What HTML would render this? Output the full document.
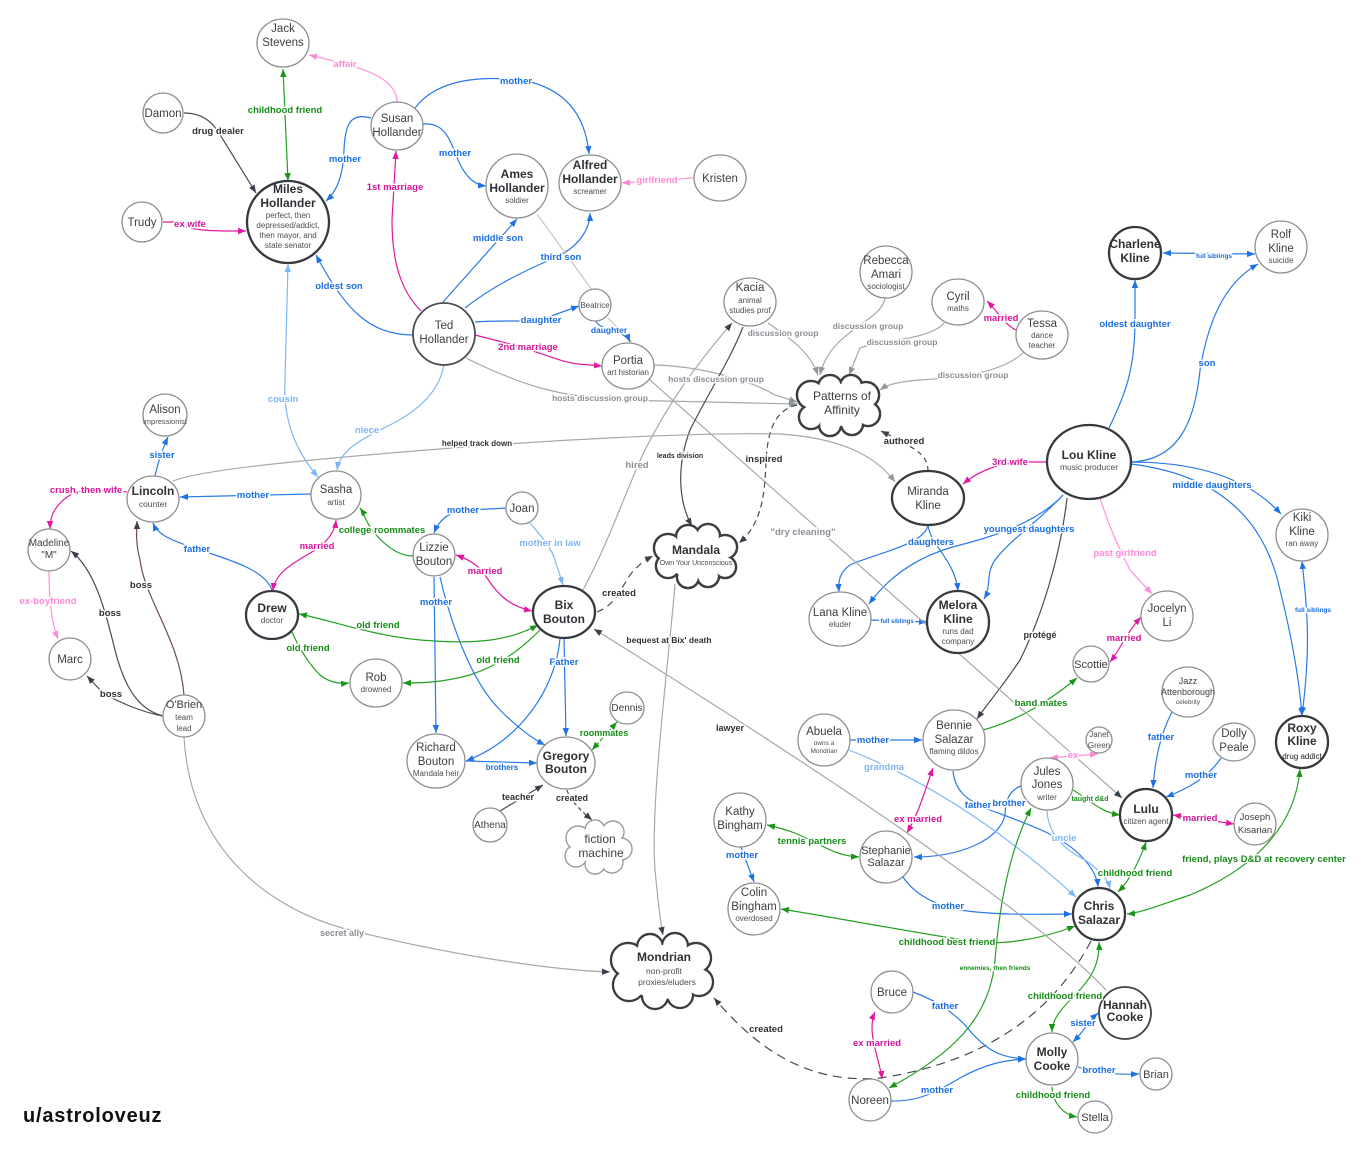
<!DOCTYPE html>
<html><head><meta charset="utf-8">
<style>
html,body{margin:0;padding:0;background:#fff;}
svg{display:block;}
.n{fill:#fff;stroke:#8e8e8e;stroke-width:1.3}
.nb{fill:#fff;stroke:#36393f;stroke-width:2.3}
.t{font-family:"Liberation Sans",sans-serif;font-size:11.5px;fill:#3c4043;text-anchor:middle}
.tb{font-family:"Liberation Sans",sans-serif;font-size:12px;font-weight:bold;fill:#2e3135;text-anchor:middle}
.s{font-family:"Liberation Sans",sans-serif;font-size:8px;fill:#4a4d52;text-anchor:middle}
.l{font-family:"Liberation Sans",sans-serif;font-size:9.5px;font-weight:bold;text-anchor:middle;paint-order:stroke;stroke:#fff;stroke-width:3px;stroke-linejoin:round}
.lb{fill:#1a6ee0}.llb{fill:#7db5f7}.lp{fill:#d6139a}.llp{fill:#ff88d8}.lg{fill:#178c17}.ld{fill:#2e3135}.lgr{fill:#8a8e96}
.e{fill:none;stroke-width:1.2}
.B{stroke:#2a7ae8}.LB{stroke:#80b8f7}.P{stroke:#e0189f}.LP{stroke:#ff90da}.G{stroke:#23a023}.D{stroke:#464c57}.GR{stroke:#a8a8a8}.TAN{stroke:#cfc6bb}
</style></head>
<body>
<svg width="1365" height="1153" viewBox="0 0 1365 1153" xmlns="http://www.w3.org/2000/svg">
<defs>
<marker id="mB" viewBox="0 0 10 10" refX="10" refY="5" markerWidth="8" markerHeight="8" markerUnits="userSpaceOnUse" orient="auto-start-reverse"><path d="M0,1 L10,5 L0,9 z" fill="#1f72e6"/></marker>
<marker id="mLB" viewBox="0 0 10 10" refX="10" refY="5" markerWidth="8" markerHeight="8" markerUnits="userSpaceOnUse" orient="auto-start-reverse"><path d="M0,1 L10,5 L0,9 z" fill="#7db5f7"/></marker>
<marker id="mP" viewBox="0 0 10 10" refX="10" refY="5" markerWidth="8" markerHeight="8" markerUnits="userSpaceOnUse" orient="auto-start-reverse"><path d="M0,1 L10,5 L0,9 z" fill="#e0189f"/></marker>
<marker id="mLP" viewBox="0 0 10 10" refX="10" refY="5" markerWidth="8" markerHeight="8" markerUnits="userSpaceOnUse" orient="auto-start-reverse"><path d="M0,1 L10,5 L0,9 z" fill="#ff88d8"/></marker>
<marker id="mG" viewBox="0 0 10 10" refX="10" refY="5" markerWidth="8" markerHeight="8" markerUnits="userSpaceOnUse" orient="auto-start-reverse"><path d="M0,1 L10,5 L0,9 z" fill="#1b941b"/></marker>
<marker id="mD" viewBox="0 0 10 10" refX="10" refY="5" markerWidth="8" markerHeight="8" markerUnits="userSpaceOnUse" orient="auto-start-reverse"><path d="M0,1 L10,5 L0,9 z" fill="#3a3f4a"/></marker>
<marker id="mGR" viewBox="0 0 10 10" refX="10" refY="5" markerWidth="8" markerHeight="8" markerUnits="userSpaceOnUse" orient="auto-start-reverse"><path d="M0,1 L10,5 L0,9 z" fill="#8f939a"/></marker>
</defs>

<!-- ================= EDGES ================= -->
<!-- top-left family -->
<path class="e G" d="M283,69 L288,181" marker-start="url(#mG)" marker-end="url(#mG)"/>
<path class="e LP" d="M397,102 C397,75 355,66 309,55" marker-end="url(#mLP)"/>
<path class="e D" d="M184,113 C205,113 215,125 222,138 L256,193" marker-end="url(#mD)"/>
<path class="e P" d="M163,222 L175,222 C190,232 220,231 246,231" marker-end="url(#mP)"/>
<path class="e B" d="M371,118 C350,112 345,125 344,150 C343,175 338,190 326,201" marker-end="url(#mB)"/>
<path class="e B" d="M415,108 C440,75 490,78 515,79 C560,85 585,110 589,154" marker-end="url(#mB)"/>
<path class="e B" d="M423,124 C445,122 450,140 458,160 C466,178 475,185 486,186" marker-end="url(#mB)"/>
<path class="e P" d="M421,311 C400,290 392,260 392,220 L396,151" marker-end="url(#mP)"/>
<path class="e B" d="M413,335 C370,335 345,310 316,255" marker-end="url(#mB)"/>
<path class="e B" d="M443,302 L517,219" marker-end="url(#mB)"/>
<path class="e B" d="M465,308 C500,280 540,265 560,255 C580,245 590,228 590,213" marker-end="url(#mB)"/>
<path class="e TAN" d="M537,214 L592,290"/>
<path class="e TAN" d="M608,318 L632,342"/>
<path class="e B" d="M596,321 C598,330 625,330 630,342" marker-end="url(#mB)"/>
<path class="e B" d="M475,322 C500,320 520,322 540,320 L579,306" marker-end="url(#mB)"/>
<path class="e P" d="M475,335 L510,344 C540,352 560,362 578,364 L602,366" marker-end="url(#mP)"/>
<path class="e GR" d="M466,358 C520,385 560,397 620,400 L797,404" marker-end="url(#mGR)"/>
<path class="e GR" d="M654,365 C700,366 750,380 775,395 L797,402" marker-end="url(#mGR)"/>
<path class="e LP" d="M693,178 L622,183" marker-end="url(#mLP)"/>

<!-- discussion group -->
<path class="e GR" d="M768,323 C790,338 810,352 818,375" marker-end="url(#mGR)"/>
<path class="e GR" d="M885,298 C882,322 830,330 820,375" marker-end="url(#mGR)"/>
<path class="e GR" d="M944,323 C930,340 880,340 860,348 L849,375" marker-end="url(#mGR)"/>
<path class="e GR" d="M1024,352 C1000,375 950,378 920,380 C895,382 887,385 880,390" marker-end="url(#mGR)"/>
<path class="e P" d="M1016,330 C1005,325 998,312 987,301" marker-end="url(#mP)"/>
<path class="e D" d="M928,471 C928,455 915,450 905,443 L881,431" stroke-dasharray="5,4" marker-end="url(#mD)"/>

<!-- Kline family -->
<path class="e P" d="M1047,462 L1030,462 C1000,462 980,470 963,484" marker-end="url(#mP)"/>
<path class="e B" d="M1109,428 C1125,395 1135,370 1135,320 L1135,280" marker-end="url(#mB)"/>
<path class="e B" d="M1131,462 C1180,460 1195,420 1200,370 C1210,310 1230,280 1258,264" marker-end="url(#mB)"/>
<path class="e B" d="M1163,253 L1255,254" marker-start="url(#mB)" marker-end="url(#mB)"/>
<path class="e B" d="M1131,462 C1200,462 1250,480 1281,514" marker-end="url(#mB)"/>
<path class="e B" d="M1131,464 C1220,475 1265,520 1280,590 C1295,650 1300,690 1302,716" marker-end="url(#mB)"/>
<path class="e B" d="M1302,561 C1306,600 1312,640 1302,715" marker-start="url(#mB)" marker-end="url(#mB)"/>
<path class="e B" d="M928,525 C925,545 870,555 850,565 C840,572 838,580 839,592" marker-end="url(#mB)"/>
<path class="e B" d="M928,525 C930,545 955,560 958,591" marker-end="url(#mB)"/>
<path class="e B" d="M1063,495 C1040,520 1000,535 960,545 C920,555 890,575 869,604" marker-end="url(#mB)"/>
<path class="e B" d="M1063,495 C1040,520 1010,540 995,560 C985,575 992,585 984,599" marker-end="url(#mB)"/>
<path class="e B" d="M871,620 L927,622" marker-end="url(#mB)"/>
<path class="e LP" d="M1100,498 C1110,530 1120,550 1130,570 L1152,594" marker-end="url(#mLP)"/>
<path class="e D" d="M1067,498 C1060,560 1040,620 1020,660 C1000,690 990,700 977,719" marker-end="url(#mD)"/>
<path class="e P" d="M1110,662 C1120,650 1125,635 1141,617" marker-start="url(#mP)" marker-end="url(#mP)"/>
<path class="e G" d="M983,730 C1020,720 1050,700 1077,678" marker-end="url(#mG)"/>

<!-- Lulu area -->
<path class="e B" d="M1172,712 C1160,735 1155,760 1153,788" marker-end="url(#mB)"/>
<path class="e B" d="M1221,758 C1210,775 1190,788 1166,797" marker-end="url(#mB)"/>
<path class="e P" d="M1173,815 L1234,824" marker-start="url(#mP)" marker-end="url(#mP)"/>
<path class="e G" d="M1073,790 C1090,800 1100,812 1120,815" marker-end="url(#mG)"/>
<path class="e LP" d="M1050,758 L1098,754" marker-start="url(#mLP)" marker-end="url(#mLP)"/>
<path class="e B" d="M953,771 C955,790 965,800 990,810 C1030,825 1060,835 1080,855 C1090,865 1097,875 1098,887" marker-end="url(#mB)"/>
<path class="e B" d="M1021,786 C1010,790 1005,800 1005,815 C1000,840 960,857 914,857" marker-end="url(#mB)"/>
<path class="e LB" d="M1047,810 C1048,835 1065,850 1085,860 C1100,870 1108,880 1110,889" marker-end="url(#mLB)"/>
<path class="e B" d="M850,740 L922,740" marker-end="url(#mB)"/>
<path class="e LB" d="M849,750 C900,770 980,810 1076,897" marker-end="url(#mLB)"/>
<path class="e P" d="M933,768 C925,790 920,810 907,833" marker-start="url(#mP)" marker-end="url(#mP)"/>
<path class="e G" d="M767,825 C790,830 800,835 810,840 C830,850 840,856 859,857" marker-start="url(#mG)" marker-end="url(#mG)"/>
<path class="e B" d="M741,847 L754,882" marker-end="url(#mB)"/>
<path class="e B" d="M903,877 C915,895 935,905 960,910 C1000,916 1050,914 1072,914" marker-end="url(#mB)"/>
<path class="e G" d="M1075,926 C1040,940 1000,945 975,942 C900,930 820,915 781,909" marker-start="url(#mG)" marker-end="url(#mG)"/>
<path class="e G" d="M1146,842 C1140,860 1130,880 1118,892" marker-start="url(#mG)" marker-end="url(#mG)"/>
<path class="e G" d="M1300,769 C1295,830 1250,870 1190,895 C1160,905 1140,913 1127,914" marker-start="url(#mG)" marker-end="url(#mG)"/>
<path class="e G" d="M889,1088 C950,1055 990,1020 995,960 C1000,900 1010,850 1031,808" marker-start="url(#mG)" marker-end="url(#mG)"/>
<path class="e D" d="M1091,941 C1060,1000 1000,1060 880,1078 C800,1085 750,1040 714,998" stroke-dasharray="9,6" stroke-width="1.4" marker-end="url(#mD)"/>
<path class="e G" d="M1099,942 C1100,965 1090,980 1075,995 C1060,1010 1052,1020 1052,1032" marker-start="url(#mG)" marker-end="url(#mG)"/>
<path class="e B" d="M1098,1013 C1090,1020 1085,1030 1073,1042" marker-start="url(#mB)" marker-end="url(#mB)"/>
<path class="e B" d="M913,992 C935,1000 950,1010 965,1025 C985,1050 1000,1058 1026,1059" marker-end="url(#mB)"/>
<path class="e B" d="M891,1101 C920,1102 940,1090 960,1078 C985,1064 1005,1060 1026,1059" marker-end="url(#mB)"/>
<path class="e P" d="M875,1012 C866,1032 880,1060 882,1079" marker-start="url(#mP)" marker-end="url(#mP)"/>
<path class="e B" d="M1078,1067 C1090,1072 1110,1075 1139,1074" marker-end="url(#mB)"/>
<path class="e G" d="M1052,1087 C1053,1105 1065,1115 1077,1117" marker-end="url(#mG)"/>

<!-- long gray lines -->
<path class="e GR" d="M1106,990 C1050,930 900,820 594,629" marker-end="url(#mD)"/>
<path class="e GR" d="M650,380 C750,470 900,600 1122,798" marker-end="url(#mD)"/>
<path class="e GR" d="M583,590 C610,540 630,480 645,450 C670,400 700,360 732,323" stroke="#c0c0c0" marker-end="url(#mD)"/>
<path class="e D" d="M743,327 C730,360 710,390 690,430 C675,470 680,505 692,526" marker-end="url(#mD)"/>
<path class="e D" d="M797,405 C775,410 768,430 766,460 C765,500 760,525 739,543" stroke-dasharray="6,4" marker-end="url(#mD)"/>
<path class="e D" d="M597,612 C615,605 620,590 630,575 C638,565 645,560 653,556" stroke-dasharray="7,5" stroke-width="1.4" marker-end="url(#mD)"/>
<path class="e GR" d="M675,584 C670,650 650,800 655,870 C658,900 660,920 663,935" marker-end="url(#mD)"/>
<path class="e GR" d="M184,737 C190,850 270,910 350,930 C450,955 550,970 610,972" marker-end="url(#mD)"/>
<path class="e GR" d="M173,481 C200,470 300,460 440,449 C550,440 700,432 780,434 C840,438 875,455 895,482" stroke="#bdbdbd" marker-end="url(#mGR)"/>

<!-- left side -->
<path class="e B" d="M155,476 C158,462 162,450 168,437" marker-end="url(#mB)"/>
<path class="e P" d="M127,492 C110,490 80,488 70,495 C55,505 50,515 50,529" marker-end="url(#mP)"/>
<path class="e LP" d="M49,571 C49,590 50,620 58,639" marker-end="url(#mLP)"/>
<path class="e B" d="M311,494 L180,497" marker-end="url(#mB)"/>
<path class="e LB" d="M288,264 L285,380 C283,420 295,450 318,477" marker-start="url(#mLB)" marker-end="url(#mLB)"/>
<path class="e LB" d="M444,364 C440,390 420,410 390,425 C360,440 340,450 337,470" marker-end="url(#mLB)"/>
<path class="e B" d="M272,590 C265,570 230,560 200,550 C170,540 158,535 153,523" marker-end="url(#mB)"/>
<path class="e P" d="M273,591 C275,570 300,560 315,550 C330,540 335,530 336,520" marker-start="url(#mP)" marker-end="url(#mP)"/>
<path class="e G" d="M413,556 C395,556 380,540 372,530 C365,520 365,515 360,508" stroke="#6cc06c" marker-end="url(#mG)"/>
<path class="e B" d="M507,508 L470,510 C450,511 440,518 434,533" marker-end="url(#mB)"/>
<path class="e LB" d="M530,523 C540,535 550,545 555,560 L563,585" marker-end="url(#mLB)"/>
<path class="e P" d="M456,555 C470,560 478,565 485,575 C495,590 505,605 532,611" marker-start="url(#mP)" marker-end="url(#mP)"/>
<path class="e G" d="M538,625 C510,640 480,645 420,640 C370,635 330,620 299,614" marker-start="url(#mG)" marker-end="url(#mG)"/>
<path class="e G" d="M292,632 C300,650 310,665 320,675 C330,683 340,684 349,683" marker-end="url(#mG)"/>
<path class="e G" d="M540,630 C520,650 500,665 470,675 C440,683 420,683 403,683" marker-end="url(#mG)"/>
<path class="e B" d="M434,577 L436,733" marker-end="url(#mB)"/>
<path class="e B" d="M440,577 C450,620 470,680 500,710 C520,730 535,740 545,745" marker-end="url(#mB)"/>
<path class="e B" d="M564,639 L566,736" marker-end="url(#mB)"/>
<path class="e B" d="M560,639 C555,690 520,740 466,761" marker-end="url(#mB)"/>
<path class="e B" d="M466,761 L537,763" marker-end="url(#mB)"/>
<path class="e G" d="M592,750 L617,722" stroke-dasharray="4,2" marker-start="url(#mG)" marker-end="url(#mG)"/>
<path class="e D" d="M500,811 L543,785" marker-end="url(#mD)"/>
<path class="e D" d="M567,790 C570,800 580,810 592,820" stroke-dasharray="4,3" marker-end="url(#mD)"/>
<path class="e" stroke="#6b4f4a" d="M184,695 C180,640 145,600 140,560 C135,540 137,530 137,521" marker-end="url(#mD)"/>
<path class="e D" d="M163,716 C140,710 125,690 115,650 C105,610 95,570 71,551" marker-end="url(#mD)"/>
<path class="e D" d="M163,716 C140,712 115,700 103,693 L87,676" marker-end="url(#mD)"/>

<!-- ================= CLOUDS ================= -->
<g stroke="#3a3d42" stroke-width="2.6" fill="#fff">
<circle cx="811" cy="395" r="14"/><circle cx="830" cy="387" r="12"/><circle cx="851" cy="386" r="11"/><circle cx="866" cy="395" r="13"/><circle cx="868" cy="414" r="12"/><circle cx="852" cy="424" r="11"/><circle cx="830" cy="425" r="11"/><circle cx="811" cy="417" r="12"/>
</g>
<g fill="#fff"><circle cx="811" cy="395" r="12.8"/><circle cx="830" cy="387" r="10.8"/><circle cx="851" cy="386" r="9.8"/><circle cx="866" cy="395" r="11.8"/><circle cx="868" cy="414" r="10.8"/><circle cx="852" cy="424" r="9.8"/><circle cx="830" cy="425" r="9.8"/><circle cx="811" cy="417" r="10.8"/><ellipse cx="840" cy="405" rx="30" ry="21"/></g>

<g stroke="#3a3d42" stroke-width="2.6" fill="#fff">
<circle cx="668" cy="548" r="14"/><circle cx="688" cy="537" r="12"/><circle cx="708" cy="536" r="12"/><circle cx="725" cy="547" r="12"/><circle cx="725" cy="567" r="11"/><circle cx="708" cy="576" r="11"/><circle cx="688" cy="577" r="11"/><circle cx="668" cy="566" r="12"/>
</g>
<g fill="#fff"><circle cx="668" cy="548" r="12.8"/><circle cx="688" cy="537" r="10.8"/><circle cx="708" cy="536" r="10.8"/><circle cx="725" cy="547" r="10.8"/><circle cx="725" cy="567" r="9.8"/><circle cx="708" cy="576" r="9.8"/><circle cx="688" cy="577" r="9.8"/><circle cx="668" cy="566" r="10.8"/><ellipse cx="696" cy="557" rx="30" ry="21"/></g>

<g stroke="#3a3d42" stroke-width="2.4" fill="#fff">
<circle cx="628" cy="960" r="17"/><circle cx="650" cy="947" r="13"/><circle cx="675" cy="946" r="13"/><circle cx="696" cy="958" r="15"/><circle cx="699" cy="982" r="14"/><circle cx="680" cy="995" r="13"/><circle cx="655" cy="996" r="13"/><circle cx="629" cy="985" r="16"/>
</g>
<g fill="#fff"><circle cx="628" cy="960" r="15.8"/><circle cx="650" cy="947" r="11.8"/><circle cx="675" cy="946" r="11.8"/><circle cx="696" cy="958" r="13.8"/><circle cx="699" cy="982" r="12.8"/><circle cx="680" cy="995" r="11.8"/><circle cx="655" cy="996" r="11.8"/><circle cx="629" cy="985" r="14.8"/><ellipse cx="662" cy="972" rx="38" ry="27"/></g>

<g stroke="#9a9a9a" stroke-width="1.4" fill="#fff">
<circle cx="578" cy="838" r="12"/><circle cx="595" cy="830" r="10"/><circle cx="613" cy="832" r="11"/><circle cx="621" cy="849" r="11"/><circle cx="612" cy="862" r="11"/><circle cx="595" cy="864" r="10"/><circle cx="576" cy="856" r="11"/>
</g>
<g fill="#fff"><circle cx="578" cy="838" r="11.2"/><circle cx="595" cy="830" r="9.2"/><circle cx="613" cy="832" r="10.2"/><circle cx="621" cy="849" r="10.2"/><circle cx="612" cy="862" r="10.2"/><circle cx="595" cy="864" r="9.2"/><circle cx="576" cy="856" r="10.2"/><ellipse cx="598" cy="847" rx="22" ry="16"/></g>

<text class="t" x="842" y="400" style="font-size:12px">Patterns of</text>
<text class="t" x="842" y="414" style="font-size:12px">Affinity</text>
<text class="tb" x="696" y="554">Mandala</text>
<text class="s" x="696" y="565" style="font-size:7px">Own Your Unconscious</text>
<text class="tb" x="664" y="961">Mondrian</text>
<text class="s" x="664" y="974" style="font-size:8.5px">non-profit</text>
<text class="s" x="667" y="985" style="font-size:8.5px">proxies/eluders</text>
<text class="t" x="600" y="843" style="font-size:12px">fiction</text>
<text class="t" x="601" y="857" style="font-size:12px">machine</text>

<!-- ================= NODES ================= -->
<ellipse class="n" cx="283" cy="43" rx="26" ry="24"/>
<text class="t" x="283" y="32">Jack</text><text class="t" x="283" y="46">Stevens</text>
<circle class="n" cx="163" cy="113" r="20"/><text class="t" x="163" y="117">Damon</text>
<circle class="n" cx="142" cy="222" r="20"/><text class="t" x="142" y="226">Trudy</text>
<circle class="nb" cx="288" cy="222" r="41"/>
<text class="tb" x="288" y="193">Miles</text><text class="tb" x="288" y="207">Hollander</text>
<text class="s" x="288" y="218">perfect, then</text><text class="s" x="288" y="228">depressed/addict,</text><text class="s" x="288" y="238">then mayor, and</text><text class="s" x="288" y="248">state senator</text>
<ellipse class="n" cx="397" cy="126" rx="26" ry="24"/>
<text class="t" x="397" y="122">Susan</text><text class="t" x="397" y="136">Hollander</text>
<circle class="nb" cx="444" cy="334" r="31" style="stroke:#4a4d52;stroke-width:1.8"/>
<text class="t" x="444" y="329">Ted</text><text class="t" x="444" y="343">Hollander</text>
<ellipse class="n" cx="517" cy="186" rx="31" ry="32"/>
<text class="tb" x="517" y="178">Ames</text><text class="tb" x="517" y="192">Hollander</text><text class="s" x="517" y="203">soldier</text>
<ellipse class="n" cx="590" cy="183" rx="31" ry="28"/>
<text class="tb" x="590" y="169">Alfred</text><text class="tb" x="590" y="183">Hollander</text><text class="s" x="590" y="194">screamer</text>
<ellipse class="n" cx="720" cy="178" rx="26" ry="23"/><text class="t" x="720" y="182">Kristen</text>
<circle class="n" cx="595" cy="305" r="16"/><text class="s" x="595" y="308">Beatrice</text>
<ellipse class="n" cx="628" cy="366" rx="26" ry="23"/>
<text class="t" x="628" y="364">Portia</text><text class="s" x="628" y="375">art historian</text>
<ellipse class="n" cx="750" cy="302" rx="26" ry="24"/>
<text class="t" x="750" y="291">Kacia</text><text class="s" x="750" y="303">animal</text><text class="s" x="750" y="313">studies prof</text>
<circle class="n" cx="886" cy="272" r="26"/>
<text class="t" x="886" y="264">Rebecca</text><text class="t" x="886" y="278">Amari</text><text class="s" x="886" y="289">sociologist</text>
<ellipse class="n" cx="958" cy="302" rx="26" ry="23"/>
<text class="t" x="958" y="300">Cyril</text><text class="s" x="958" y="311">maths</text>
<ellipse class="n" cx="1042" cy="335" rx="26" ry="24"/>
<text class="t" x="1042" y="327">Tessa</text><text class="s" x="1042" y="338">dance</text><text class="s" x="1042" y="348">teacher</text>
<circle class="nb" cx="1135" cy="253" r="26"/>
<text class="tb" x="1135" y="248">Charlene</text><text class="tb" x="1135" y="262">Kline</text>
<circle class="n" cx="1281" cy="247" r="26"/>
<text class="t" x="1281" y="238">Rolf</text><text class="t" x="1281" y="252">Kline</text><text class="s" x="1281" y="263">suicide</text>
<ellipse class="nb" cx="1089" cy="462" rx="42" ry="37"/>
<text class="tb" x="1089" y="459">Lou Kline</text><text class="s" x="1089" y="470" style="font-size:8.5px">music producer</text>
<ellipse class="nb" cx="928" cy="498" rx="36" ry="27"/>
<text class="t" x="928" y="495">Miranda</text><text class="t" x="928" y="509">Kline</text>
<circle class="n" cx="1302" cy="535" r="26"/>
<text class="t" x="1302" y="521">Kiki</text><text class="t" x="1302" y="535">Kline</text><text class="s" x="1302" y="546">ran away</text>
<ellipse class="n" cx="840" cy="619" rx="31" ry="27"/>
<text class="t" x="840" y="616">Lana Kline</text><text class="s" x="840" y="627">eluder</text>
<circle class="nb" cx="958" cy="622" r="31"/>
<text class="tb" x="958" y="609">Melora</text><text class="tb" x="958" y="623">Kline</text><text class="s" x="958" y="634">runs dad</text><text class="s" x="958" y="644">company</text>
<ellipse class="n" cx="1167" cy="616" rx="26" ry="25"/>
<text class="t" x="1167" y="612">Jocelyn</text><text class="t" x="1167" y="626">Li</text>
<circle class="n" cx="1091" cy="664" r="18"/><text class="t" x="1091" y="668" style="font-size:11px">Scottie</text>
<ellipse class="n" cx="1188" cy="692" rx="26" ry="25"/>
<text class="t" x="1188" y="684" style="font-size:9px">Jazz</text><text class="t" x="1188" y="695" style="font-size:9px">Attenborough</text><text class="s" x="1188" y="704" style="font-size:6.5px">celebrity</text>
<ellipse class="n" cx="1234" cy="742" rx="21" ry="19"/>
<text class="t" x="1234" y="737">Dolly</text><text class="t" x="1234" y="751">Peale</text>
<circle class="nb" cx="1302" cy="742" r="26"/>
<text class="tb" x="1302" y="732">Roxy</text><text class="tb" x="1302" y="745">Kline</text><text class="s" x="1302" y="759" style="fill:#222">drug addict</text>
<circle class="nb" cx="1146" cy="815" r="26"/>
<text class="tb" x="1146" y="813">Lulu</text><text class="s" x="1146" y="824">citizen agent</text>
<circle class="n" cx="1255" cy="824" r="21"/>
<text class="t" x="1255" y="820" style="font-size:9.5px">Joseph</text><text class="t" x="1255" y="833" style="font-size:9.5px">Kisarian</text>
<circle class="n" cx="1099" cy="740" r="13"/>
<text class="s" x="1099" y="737">Janet</text><text class="s" x="1099" y="748">Green</text>
<circle class="n" cx="1047" cy="784" r="26"/>
<text class="t" x="1047" y="775">Jules</text><text class="t" x="1047" y="788">Jones</text><text class="s" x="1047" y="800">writer</text>
<ellipse class="n" cx="954" cy="740" rx="31" ry="30"/>
<text class="t" x="954" y="729">Bennie</text><text class="t" x="954" y="743">Salazar</text><text class="s" x="954" y="754">flaming dildos</text>
<circle class="n" cx="824" cy="740" r="26"/>
<text class="t" x="824" y="735">Abuela</text><text class="s" x="824" y="745" style="font-size:6.5px">owns a</text><text class="s" x="824" y="753" style="font-size:6.5px">Mondrian</text>
<ellipse class="n" cx="740" cy="820" rx="26" ry="27"/>
<text class="t" x="740" y="815">Kathy</text><text class="t" x="740" y="829">Bingham</text>
<circle class="n" cx="754" cy="909" r="26"/>
<text class="t" x="754" y="896">Colin</text><text class="t" x="754" y="910">Bingham</text><text class="s" x="754" y="921">overdosed</text>
<circle class="n" cx="886" cy="857" r="26"/>
<text class="t" x="886" y="854" style="font-size:11px">Stephanie</text><text class="t" x="886" y="866" style="font-size:11px">Salazar</text>
<circle class="n" cx="892" cy="992" r="21"/><text class="t" x="892" y="996">Bruce</text>
<circle class="n" cx="870" cy="1100" r="21"/><text class="t" x="870" y="1104">Noreen</text>
<circle class="nb" cx="1099" cy="914" r="26"/>
<text class="tb" x="1099" y="910">Chris</text><text class="tb" x="1099" y="924">Salazar</text>
<circle class="nb" cx="1125" cy="1013" r="26" style="stroke:#3d4046;stroke-width:1.8"/>
<text class="tb" x="1125" y="1009">Hannah</text><text class="tb" x="1125" y="1021">Cooke</text>
<circle class="n" cx="1052" cy="1059" r="26"/>
<text class="tb" x="1052" y="1056">Molly</text><text class="tb" x="1052" y="1070">Cooke</text>
<circle class="n" cx="1156" cy="1074" r="16"/><text class="t" x="1156" y="1078" style="font-size:11px">Brian</text>
<ellipse class="n" cx="1095" cy="1117" rx="17" ry="16"/><text class="t" x="1095" y="1121" style="font-size:11px">Stella</text>

<ellipse class="n" cx="165" cy="415" rx="22" ry="21"/>
<text class="t" x="165" y="413">Alison</text><text class="s" x="165" y="424" style="font-size:7.5px">impressionist</text>
<ellipse class="n" cx="153" cy="499" rx="26" ry="23"/>
<text class="tb" x="153" y="495">Lincoln</text><text class="s" x="153" y="507" style="font-size:8.5px">counter</text>
<circle class="n" cx="49" cy="550" r="21"/>
<text class="t" x="49" y="546" style="font-size:10px">Madeline</text><text class="t" x="49" y="558" style="font-size:10px">"M"</text>
<circle class="n" cx="70" cy="659" r="21"/><text class="t" x="70" y="663">Marc</text>
<circle class="n" cx="184" cy="716" r="21"/>
<text class="t" x="184" y="708" style="font-size:11px">O'Brien</text><text class="s" x="184" y="720">team</text><text class="s" x="184" y="731">lead</text>
<ellipse class="n" cx="336" cy="495" rx="25" ry="24"/>
<text class="t" x="336" y="493">Sasha</text><text class="s" x="336" y="505">artist</text>
<ellipse class="nb" cx="272" cy="615" rx="26" ry="24"/>
<text class="tb" x="272" y="612">Drew</text><text class="s" x="272" y="623">doctor</text>
<ellipse class="n" cx="376" cy="683" rx="26" ry="24"/>
<text class="t" x="376" y="681">Rob</text><text class="s" x="376" y="692">drowned</text>
<circle class="n" cx="434" cy="555" r="21"/>
<text class="t" x="434" y="551">Lizzie</text><text class="t" x="434" y="565">Bouton</text>
<ellipse class="n" cx="436" cy="761" rx="29" ry="27"/>
<text class="t" x="436" y="751">Richard</text><text class="t" x="436" y="765">Bouton</text><text class="s" x="436" y="776">Mandala heir</text>
<circle class="n" cx="522" cy="508" r="16"/><text class="t" x="522" y="512">Joan</text>
<ellipse class="nb" cx="564" cy="612" rx="31" ry="26"/>
<text class="tb" x="564" y="609">Bix</text><text class="tb" x="564" y="623">Bouton</text>
<ellipse class="n" cx="566" cy="763" rx="29" ry="26"/>
<text class="tb" x="566" y="760">Gregory</text><text class="tb" x="566" y="773">Bouton</text>
<ellipse class="n" cx="627" cy="708" rx="17" ry="16"/><text class="t" x="627" y="711" style="font-size:10px">Dennis</text>
<circle class="n" cx="490" cy="825" r="17"/><text class="t" x="490" y="828" style="font-size:10px">Athena</text>

<!-- ================= EDGE LABELS ================= -->
<text class="l lg" x="285" y="113">childhood friend</text>
<text class="l llp" x="345" y="67">affair</text>
<text class="l ld" x="218" y="134">drug dealer</text>
<text class="l lp" x="190" y="227">ex wife</text>
<text class="l lb" x="345" y="162">mother</text>
<text class="l lb" x="516" y="84">mother</text>
<text class="l lb" x="455" y="156">mother</text>
<text class="l lp" x="395" y="190">1st marriage</text>
<text class="l lb" x="339" y="289">oldest son</text>
<text class="l lb" x="498" y="241">middle son</text>
<text class="l lb" x="561" y="260">third son</text>
<text class="l lb" x="541" y="323">daughter</text>
<text class="l lb" x="609" y="333" style="font-size:8.5px">daughter</text>
<text class="l lp" x="528" y="350">2nd marriage</text>
<text class="l lgr" x="600" y="401" style="font-size:8.5px">hosts discussion group</text>
<text class="l lgr" x="716" y="382" style="font-size:8.5px">hosts discussion group</text>
<text class="l llp" x="657" y="183">girlfriend</text>
<text class="l lgr" x="783" y="336" style="font-size:8.5px">discussion group</text>
<text class="l lgr" x="868" y="329" style="font-size:8.5px">discussion group</text>
<text class="l lgr" x="902" y="345" style="font-size:8.5px">discussion group</text>
<text class="l lgr" x="973" y="378" style="font-size:8.5px">discussion group</text>
<text class="l lp" x="1001" y="321">married</text>
<text class="l ld" x="904" y="444">authored</text>
<text class="l lp" x="1010" y="465">3rd wife</text>
<text class="l lb" x="1135" y="327">oldest daughter</text>
<text class="l lb" x="1207" y="366">son</text>
<text class="l lb" x="1214" y="258" style="font-size:6.5px">full siblings</text>
<text class="l lb" x="1212" y="488">middle daughters</text>
<text class="l lb" x="1313" y="612" style="font-size:6.5px">full siblings</text>
<text class="l lb" x="931" y="545">daughters</text>
<text class="l lb" x="1029" y="532">youngest daughters</text>
<text class="l lb" x="897" y="623" style="font-size:6px">full siblings</text>
<text class="l llp" x="1125" y="556">past girlfriend</text>
<text class="l ld" x="1040" y="638" style="font-size:9px">protégé</text>
<text class="l lp" x="1124" y="641">married</text>
<text class="l lg" x="1041" y="706">band mates</text>
<text class="l lb" x="1161" y="740">father</text>
<text class="l lb" x="1201" y="778">mother</text>
<text class="l lp" x="1200" y="821">married</text>
<text class="l lg" x="1090" y="801" style="font-size:7px">taught d&amp;d</text>
<text class="l llp" x="1073" y="758">ex</text>
<text class="l lb" x="978" y="808">father</text>
<text class="l lb" x="1009" y="806">brother</text>
<text class="l llb" x="1064" y="841">uncle</text>
<text class="l lb" x="873" y="743">mother</text>
<text class="l llb" x="884" y="770">grandma</text>
<text class="l lp" x="918" y="822">ex married</text>
<text class="l lg" x="812" y="844">tennis partners</text>
<text class="l lb" x="742" y="858">mother</text>
<text class="l lb" x="948" y="909">mother</text>
<text class="l lg" x="947" y="945">childhood best friend</text>
<text class="l lg" x="1135" y="876">childhood friend</text>
<text class="l lg" x="1264" y="862">friend, plays D&amp;D at recovery center</text>
<text class="l lg" x="995" y="970" style="font-size:6.5px">ennemies, then friends</text>
<text class="l ld" x="766" y="1032">created</text>
<text class="l lg" x="1065" y="999">childhood friend</text>
<text class="l lb" x="1083" y="1026">sister</text>
<text class="l lb" x="945" y="1009">father</text>
<text class="l lb" x="937" y="1093">mother</text>
<text class="l lp" x="877" y="1046">ex married</text>
<text class="l lb" x="1099" y="1073">brother</text>
<text class="l lg" x="1053" y="1098">childhood friend</text>
<text class="l ld" x="730" y="731" style="font-size:9px">lawyer</text>
<text class="l lgr" x="803" y="535" style="font-size:9.5px">"dry cleaning"</text>
<text class="l lgr" x="637" y="468">hired</text>
<text class="l ld" x="680" y="458" style="font-size:7px">leads division</text>
<text class="l ld" x="764" y="462">inspired</text>
<text class="l ld" x="619" y="596">created</text>
<text class="l ld" x="669" y="643" style="font-size:8.5px">bequest at Bix' death</text>
<text class="l lgr" x="342" y="936" style="font-size:9px">secret ally</text>
<text class="l ld" x="477" y="446" style="font-size:8px">helped track down</text>
<text class="l lb" x="162" y="458">sister</text>
<text class="l lp" x="86" y="493">crush, then wife</text>
<text class="l llp" x="48" y="604">ex-boyfriend</text>
<text class="l lb" x="253" y="498">mother</text>
<text class="l llb" x="283" y="402">cousin</text>
<text class="l llb" x="367" y="433">niece</text>
<text class="l lb" x="197" y="552">father</text>
<text class="l lp" x="317" y="549">married</text>
<text class="l lg" x="382" y="533">college roommates</text>
<text class="l lb" x="463" y="513">mother</text>
<text class="l llb" x="550" y="546">mother in law</text>
<text class="l lp" x="485" y="574">married</text>
<text class="l lg" x="378" y="628">old friend</text>
<text class="l lg" x="308" y="651">old friend</text>
<text class="l lg" x="498" y="663">old friend</text>
<text class="l lb" x="436" y="605">mother</text>
<text class="l lb" x="564" y="665">Father</text>
<text class="l lb" x="502" y="770" style="font-size:8px">brothers</text>
<text class="l lg" x="604" y="736" style="font-size:9px">roommates</text>
<text class="l ld" x="518" y="800" style="font-size:9px">teacher</text>
<text class="l ld" x="572" y="801" style="font-size:9px">created</text>
<text class="l ld" x="141" y="588">boss</text>
<text class="l ld" x="110" y="616">boss</text>
<text class="l ld" x="111" y="697">boss</text>

<text x="23" y="1122" style="font-family:'Liberation Sans',sans-serif;font-weight:bold;font-size:20px;letter-spacing:0.8px;fill:#111">u/astroloveuz</text>
</svg>
</body></html>
